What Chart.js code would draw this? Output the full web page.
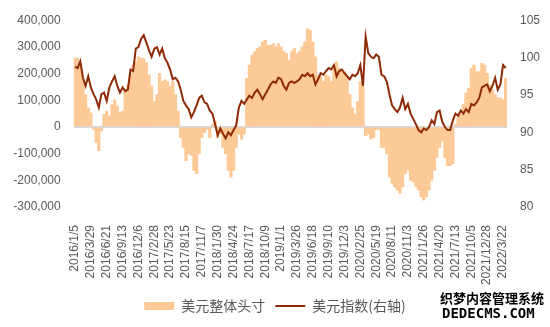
<!DOCTYPE html>
<html>
<head>
<meta charset="utf-8">
<script src="https://cdn.jsdelivr.net/npm/chart.js@4/dist/chart.umd.min.js"></script>
<style>
  html, body { margin: 0; padding: 0; background: #fff; }
  #wrap { width: 550px; height: 327px; }
</style>
</head>
<body>
<div id="wrap"><canvas id="myChart" width="550" height="327"></canvas></div>
<script>
// biweekly dates starting 2016/1/5, a tick label every 6th point (12 weeks)
var startDate = new Date(2016, 0, 5);
var pointCount = 164;
var labelEvery = 6;

var seriesNames = ['美元整体头寸', '美元指数(右轴)'];

// 美元整体头寸 (left axis)
var netPosition = [
  259000, 257000, 232000, 177000, 121000, 72000, 53000, -9000, -58000, -89000,
  -15000, 47000, 59000, 41000, 84000, 102000, 78000, 53000, 59000, 133000,
  158000, 195000, 232000, 245000, 263000, 257000, 257000, 240000, 195000, 152000,
  96000, 121000, 201000, 170000, 177000, 170000, 152000, 170000, 121000, 59000,
  -40000, -77000, -126000, -101000, -107000, -163000, -175000, -101000, -40000, -21000,
  -9000, -40000, 10000, 22000, -40000, -27000, -77000, -101000, -163000, -188000,
  -163000, -77000, -27000, -46000, -27000, 183000, 232000, 269000, 282000, 294000,
  300000, 319000, 325000, 306000, 306000, 312000, 300000, 312000, 300000, 282000,
  275000, 251000, 282000, 294000, 275000, 282000, 300000, 319000, 368000, 362000,
  319000, 263000, 195000, 189000, 170000, 195000, 189000, 170000, 232000, 245000,
  220000, 207000, 207000, 183000, 121000, 72000, 47000, 96000, 170000, 152000,
  -33000, -27000, -46000, -40000, -9000, -9000, -77000, -77000, -101000, -188000,
  -212000, -225000, -237000, -249000, -225000, -175000, -163000, -200000, -206000, -225000,
  -237000, -262000, -274000, -262000, -237000, -200000, -163000, -114000, -77000, -52000,
  -114000, -145000, -145000, -138000, 10000, 35000, 47000, 84000, 127000, 146000,
  220000, 232000, 207000, 207000, 238000, 232000, 201000, 158000, 140000, 121000,
  109000, 109000, 102000, 183000
];

// 美元指数 (right axis)
var dollarIndex = [
  98.8, 98.6, 99.5, 97.3, 96.2, 97.5, 96.0, 95.1, 94.4, 93.3,
  95.1, 95.3, 94.2, 96.0, 96.8, 97.5, 96.2, 95.3, 96.0, 95.5,
  95.7, 98.4, 98.2, 101.2, 101.4, 102.5, 103.0, 102.0, 101.0, 100.1,
  101.2, 101.4, 100.4, 101.2, 99.9, 99.3, 98.4, 97.1, 97.3, 96.8,
  95.7, 94.2, 93.6, 93.1, 92.0, 92.7, 93.6, 94.6, 94.9, 94.0,
  93.8, 92.9, 92.5, 91.1, 89.6, 90.5, 89.8, 89.2, 90.0, 89.6,
  90.3, 90.9, 93.3, 94.2, 93.8, 94.4, 94.9, 94.6, 95.3, 95.7,
  95.1, 94.4, 95.1, 95.7, 96.4, 96.8, 96.6, 97.3, 97.1, 96.2,
  95.7, 96.6, 96.8, 96.6, 96.8, 97.1, 97.7, 97.5, 97.9, 97.5,
  97.7, 96.4, 97.1, 97.9, 97.7, 98.2, 98.6, 98.4, 99.0, 97.5,
  98.2, 98.4, 97.9, 97.5, 97.1, 97.7, 97.5, 97.9, 99.0, 96.2,
  102.8, 100.6, 100.1, 99.9, 100.4, 100.1, 97.7, 97.5, 96.8, 95.1,
  93.6, 93.1, 92.7, 93.3, 94.6, 93.1, 93.8, 92.5, 91.8, 91.1,
  90.3, 90.0, 90.5, 90.3, 90.7, 91.6, 91.1, 92.7, 92.9, 91.4,
  90.7, 90.3, 90.3, 91.6, 92.5, 92.2, 92.9, 92.5, 93.1, 92.7,
  93.8, 93.6, 94.0, 94.6, 96.0, 96.2, 96.4, 95.5, 96.2, 97.3,
  95.7, 96.4, 99.0, 98.6
];

var categories = [];
for (var i = 0; i < pointCount; i++) {
  var d = new Date(startDate.getTime());
  d.setDate(d.getDate() + i * 14);
  categories.push(d.getFullYear() + '/' + (d.getMonth() + 1) + '/' + d.getDate());
}

var grey = '#595959';
var tickFont = { family: '"Liberation Sans", "Noto Sans CJK SC", sans-serif', size: 12 };

// site watermark in the bottom right corner
var watermark = {
  id: 'watermark',
  afterDraw: function (chart) {
    var c = chart.ctx;
    c.save();
    c.textAlign = 'left';
    c.textBaseline = 'middle';
    c.lineJoin = 'round';
    c.font = 'bold 13px "Noto Sans CJK SC", sans-serif';
    c.strokeStyle = '#fff';
    c.lineWidth = 3;
    c.strokeText('织梦内容管理系统', 440, 298);
    c.fillStyle = '#000';
    c.fillText('织梦内容管理系统', 440, 298);
    c.font = 'bold 14px "DejaVu Sans Mono", monospace';
    c.strokeText('DEDECMS.COM', 442, 314);
    c.fillText('DEDECMS.COM', 442, 314);
    c.restore();
  }
};

var ctx = document.getElementById('myChart').getContext('2d');

var myChart = new Chart(ctx, {
  type: 'bar',
  data: {
    labels: categories,
    datasets: [{
      type: 'line',
      label: seriesNames[1],
      data: dollarIndex,
      yAxisID: 'y1',
      borderColor: '#8E2A05',
      backgroundColor: '#8E2A05',
      borderWidth: 2,
      pointRadius: 0,
      pointStyle: 'line',
      tension: 0,
      order: 0
    }, {
      type: 'bar',
      label: seriesNames[0],
      data: netPosition,
      yAxisID: 'y',
      backgroundColor: '#FDCA97',
      borderWidth: 0,
      pointStyle: 'rect',
      barPercentage: 1,
      categoryPercentage: 1,
      order: 1
    }]
  },
  options: {
    responsive: false,
    animation: false,
    layout: { padding: { top: 15, left: 0, right: 0, bottom: 4 } },
    plugins: {
      tooltip: { enabled: false },
      legend: {
        position: 'bottom',
        reverse: true,
        labels: {
          usePointStyle: true,
          pointStyleWidth: 30,
          boxHeight: 8,
          padding: 10,
          color: grey,
          font: { family: '"Noto Sans CJK SC", sans-serif', size: 14 }
        }
      }
    },
    scales: {
      x: {
        grid: { display: false },
        border: { display: false },
        ticks: {
          autoSkip: false,
          minRotation: 90,
          maxRotation: 90,
          padding: 10,
          color: grey,
          font: tickFont,
          callback: function (v, i) {
            return i % labelEvery === 0 ? categories[i] : null;
          }
        },
        afterFit: function (s) { s.height = 82; }
      },
      y: {
        position: 'left',
        min: -300000,
        max: 400000,
        z: 1,
        border: { display: false },
        grid: {
          drawTicks: false,
          color: function (c) { return c.tick && c.tick.value === 0 ? '#D9D9D9' : 'rgba(0,0,0,0)'; },
          lineWidth: 2
        },
        ticks: {
          stepSize: 100000,
          padding: 13,
          color: grey,
          font: tickFont,
          callback: function (v) { return v.toLocaleString('en-US'); }
        },
        afterFit: function (s) { s.width = 73.7; }
      },
      y1: {
        position: 'right',
        min: 80,
        max: 105,
        border: { display: false },
        grid: { display: false, drawTicks: false },
        ticks: {
          stepSize: 5,
          padding: 13,
          color: grey,
          font: tickFont
        },
        afterFit: function (s) { s.width = 43; }
      }
    }
  },
  plugins: [watermark]
});
</script>
</body>
</html>
